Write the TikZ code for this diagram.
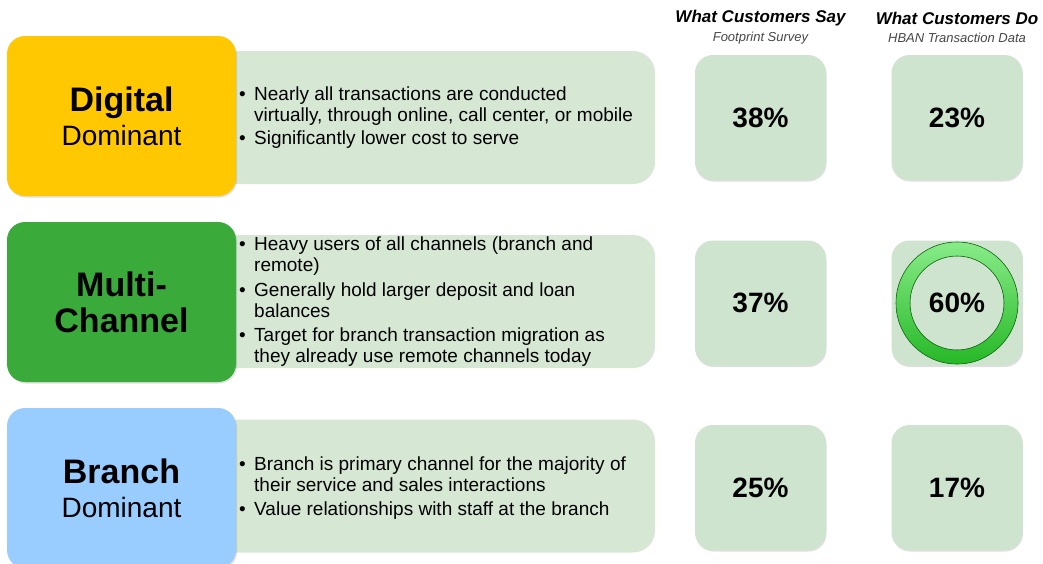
\documentclass[tikz,border=0pt]{standalone}
\usepackage{fontspec}
\setmainfont{Liberation Sans}
\usetikzlibrary{shadows}
\usetikzlibrary{positioning}
\usetikzlibrary{calc}

\definecolor{digi}{RGB}{255,200,0}
\definecolor{multi}{RGB}{58,170,58}
\definecolor{bran}{RGB}{153,204,255}
\definecolor{pane}{RGB}{214,232,212}
\definecolor{pctfill}{RGB}{206,228,207}
\definecolor{ringlo}{RGB}{38,184,38}
\definecolor{ringhi}{RGB}{136,236,136}

\newcommand{\bl}{\makebox[15pt][l]{\textbullet}}
\newcommand{\ind}{\hspace*{15pt}}

\tikzset{
  seg/.style={rectangle, rounded corners=18pt, minimum width=229pt, minimum height=160pt,
    align=center, inner sep=0pt, font=\fontsize{28}{34}\selectfont,
    drop shadow={opacity=0.25, shadow xshift=1pt, shadow yshift=-1.5pt}},
  panel/.style={rectangle, fill=pane, rounded corners=22pt, minimum width=455pt, minimum height=133pt},
  pctbox/.style={rectangle, fill=pctfill, rounded corners=18pt, minimum width=131pt, minimum height=125pt,
    font=\fontsize{28}{30}\selectfont\bfseries,
    drop shadow={opacity=0.25, shadow xshift=0.5pt, shadow yshift=-1.5pt}},
  blt/.style={anchor=west, align=left, inner sep=0pt, font=\fontsize{19}{21}\selectfont},
  head/.style={font=\fontsize{17}{19}\selectfont\bfseries\itshape},
  subhead/.style={font=\fontsize{13}{15}\selectfont\itshape, text=black!72},
}

\begin{document}
\begin{tikzpicture}[x=1pt,y=-1pt]
	\useasboundingbox (0,0) rectangle (1043,563);
	\fill[white] (0,0) rectangle (1043,563);

	\def\bx{121.5};
	\def\px{427.5};
	\def\tx{239};
	\def\sx{760.5};
	\def\dx{957};

	\foreach \r/\y in {1/117.5,2/301.5,3/486}{
		\node[panel] (p\r) at (\px,\y) {};
	}

	\node[seg, fill=digi] (digital) at (\bx,116) {{\fontsize{34}{34}\selectfont\bfseries Digital}\\Dominant};
	\node[seg, fill=multi, font=\fontsize{34}{36}\selectfont\bfseries] (multichan) at (\bx,302) {Multi-\\Channel};
	\node[seg, fill=bran] (branch) at (\bx,488) {{\fontsize{34}{34}\selectfont\bfseries Branch}\\Dominant};

	\node[blt] (t1) at (\tx,117.5) {\bl Nearly all transactions are conducted\\
		\ind virtually, through online, call center, or mobile\\[2pt]
		\bl Significantly lower cost to serve};
	\node[blt] (t2) at (\tx,301.5) {\bl Heavy users of all channels (branch and\\
		\ind remote)\\[4pt]
		\bl Generally hold larger deposit and loan\\
		\ind balances\\[3.5pt]
		\bl Target for branch transaction migration as\\
		\ind they already use remote channels today};
	\node[blt] (t3) at (\tx,488) {\bl Branch is primary channel for the majority of\\
		\ind their service and sales interactions\\[3pt]
		\bl Value relationships with staff at the branch};

	\node[head] (sayh) at (\sx,18) {What Customers Say};
	\node[subhead] (says) at (\sx,38) {Footprint Survey};
	\node[head] (doh) at (\dx,18) {What Customers Do};
	\node[subhead] (dos) at (\dx,38) {HBAN Transaction Data};

	\foreach \r/\y/\sy/\dn in {1/117.5/38/23,2/303/37/60,3/487.5/25/17}{
		\node[pctbox] (say\r) at (\sx,\y) {\sy\%};
		\node[pctbox] (do\r) at (\dx,\y) {\dn\%};
	}

	\fill[top color=ringhi, bottom color=ringlo, even odd rule] (do2.center) circle (61) circle (47);
	\draw[ringlo!60!black, line width=0.6pt] (do2.center) circle (61) circle (47);

\end{tikzpicture}
\end{document}
